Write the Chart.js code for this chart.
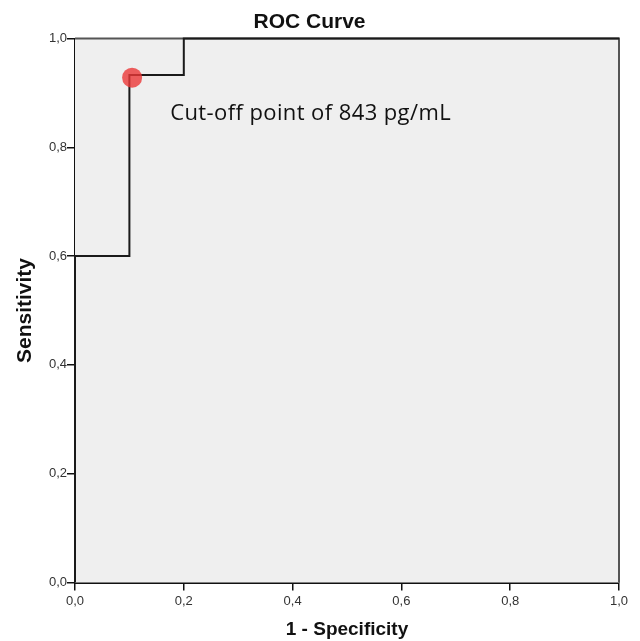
<!DOCTYPE html>
<html><head><meta charset="utf-8">
<script src="https://cdn.jsdelivr.net/npm/chart.js@4/dist/chart.umd.min.js"></script>
<style>html,body{margin:0;padding:0;background:#fff}#wrap{width:640px;height:641px}</style>
</head><body><div id="wrap"><canvas id="c" width="640" height="641"></canvas></div>
<script>
const fpr = [0, 0, 0.1, 0.1, 0.2, 0.2, 1];
const tpr = [0, 0.6, 0.6, 0.933, 0.933, 1, 1];
const cutoffPoint = [{x: 0.105, y: 0.928}];
const cutoffLabel = "Cut-off point of 843 pg/mL";
const tickValues = [0, 0.2, 0.4, 0.6, 0.8, 1.0];

const rocPoints = fpr.map((v, i) => ({x: v, y: tpr[i]}));
const fmt = v => Number(v).toFixed(1).replace('.', ',');

const areaPlugin = {
  id: 'area',
  beforeDatasetsDraw(chart) {
    const {ctx, chartArea: a} = chart;
    ctx.save();
    ctx.fillStyle = '#efefef';
    ctx.fillRect(a.left, a.top, a.right - a.left, a.bottom - a.top);
    ctx.strokeStyle = '#555';
    ctx.lineWidth = 2;
    ctx.beginPath();
    ctx.moveTo(a.left, a.top);
    ctx.lineTo(a.right, a.top);
    ctx.lineTo(a.right, a.bottom);
    ctx.stroke();
    ctx.restore();
  },
  afterDatasetsDraw(chart) {
    const {ctx, scales} = chart;
    ctx.save();
    ctx.font = '22px "Open Sans"';
    if ('letterSpacing' in ctx) ctx.letterSpacing = '0.4px';
    ctx.fillStyle = '#111';
    ctx.textBaseline = 'middle';
    ctx.fillText(cutoffLabel, scales.x.getPixelForValue(0.175), scales.y.getPixelForValue(0.862));
    ctx.restore();
  }
};

new Chart(document.getElementById('c'), {
  type: 'scatter',
  data: {
    datasets: [
      {data: rocPoints, showLine: true, borderColor: '#1a1a1a', borderWidth: 2, pointRadius: 0, fill: false, clip: false, order: 2},
      {data: cutoffPoint, pointRadius: 10, pointHoverRadius: 10, backgroundColor: 'rgba(235,55,55,0.8)', borderWidth: 0, order: 1}
    ]
  },
  plugins: [areaPlugin],
  options: {
    responsive: false,
    animation: false,
    layout: {padding: {left: 0, right: 21, top: 0, bottom: 0}},
    plugins: {
      legend: {display: false},
      tooltip: {enabled: false},
      title: {display: true, text: 'ROC Curve', color: '#111', font: {family: 'Liberation Sans', size: 21, weight: 'bold'}, padding: {top: 10, bottom: 3.3}}
    },
    scales: {
      x: {
        type: 'linear', min: 0, max: 1,
        afterBuildTicks: s => { s.ticks = tickValues.map(v => ({value: v})); },
        afterFit: s => { s.height = 58.5; },
        border: {display: true, color: '#111', width: 2},
        grid: {display: true, drawOnChartArea: false, drawTicks: true, tickLength: 8, color: '#111', lineWidth: 1.5},
        ticks: {callback: v => fmt(v), color: '#333', padding: 3.5, maxRotation: 0, font: {family: 'Liberation Sans', size: 13}},
        title: {display: true, text: '1 - Specificity', color: '#111', font: {family: 'Liberation Sans', size: 19, weight: 'bold'}, padding: {top: 10, bottom: 0}}
      },
      y: {
        type: 'linear', min: 0, max: 1,
        afterBuildTicks: s => { s.ticks = tickValues.map(v => ({value: v})); },
        afterFit: s => { s.width = 75; },
        border: {display: true, color: '#111', width: 2},
        grid: {display: true, drawOnChartArea: false, drawTicks: true, tickLength: 8, color: '#111', lineWidth: 1.5},
        ticks: {callback: v => fmt(v), color: '#333', padding: 0, font: {family: 'Liberation Sans', size: 13}},
        title: {display: true, text: 'Sensitivity', color: '#111', font: {family: 'Liberation Sans', size: 21, weight: 'bold'}, padding: {top: 13, bottom: 0}}
      }
    }
  }
});
</script></body></html>
